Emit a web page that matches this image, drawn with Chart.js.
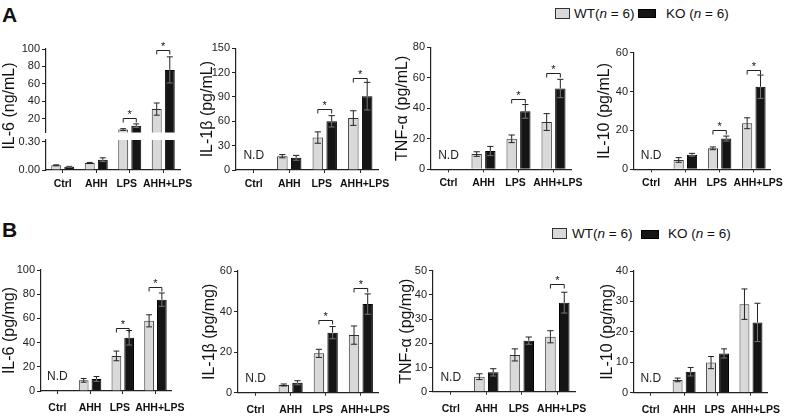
<!DOCTYPE html>
<html>
<head>
<meta charset="utf-8">
<script src="https://cdn.jsdelivr.net/npm/chart.js@4.4.0/dist/chart.umd.min.js"></script>
<style>
  body { margin: 0; background: #fff; width: 790px; height: 416px; position: relative; overflow: hidden;
         font-family: "Liberation Sans", Arial, sans-serif; color: #111; }
  canvas { position: absolute; }
  .tag { position: absolute; font-weight: bold; font-size: 21px; line-height: 24px; }
  .box { position: absolute; box-sizing: border-box; }
  .wt { background: #d9d9d9; border: 1px solid #333; }
  .ko { background: #151515; border: 1px solid #000; }
  .key { position: absolute; font-size: 13.5px; line-height: 16px; white-space: nowrap; }
</style>
</head>
<body>
<div class="tag" style="left:2px;top:3px">A</div>
<div class="tag" style="left:2px;top:218px">B</div>

<div class="box wt" style="left:555px;top:8px;width:15px;height:11px"></div>
<div class="key" style="left:574px;top:6px">WT(<i>n</i> = 6)</div>
<div class="box ko" style="left:638px;top:9px;width:18px;height:9px"></div>
<div class="key" style="left:666px;top:6px">KO (<i>n</i> = 6)</div>

<div class="box wt" style="left:552px;top:228px;width:15px;height:11px"></div>
<div class="key" style="left:572px;top:226px">WT(<i>n</i> = 6)</div>
<div class="box ko" style="left:641px;top:230px;width:18px;height:9px"></div>
<div class="key" style="left:668px;top:226px">KO (<i>n</i> = 6)</div>

<script>
const categories = ['Ctrl', 'AHH', 'LPS', 'AHH+LPS'];

// A - serum
const il6SerumWT = [0.05, 0.075, 7.5, 31];
const il6SerumWTErr = [0.005, 0.006, 1, 7];
const il6SerumKO = [0.035, 0.11, 12, 76];
const il6SerumKOErr = [0.004, 0.02, 2, 15];
const il6SerumSig = [null, null, 20.5, 99];
const il6SerumTicksHigh = [20, 40, 60, 80, 100];
const il6SerumTicksLow = [0, 0.15, 0.30];

const il1bSerumWT = [null, 17, 40, 64];
const il1bSerumWTErr = [null, 2, 7, 9];
const il1bSerumKO = [null, 15, 60, 91];
const il1bSerumKOErr = [null, 3, 7, 17];
const il1bSerumSig = [null, null, 75, 113];
const il1bSerumTicks = [0, 30, 60, 90, 120, 150];

const tnfSerumWT = [null, 10, 20, 31];
const tnfSerumWTErr = [null, 1.5, 2.5, 5.5];
const tnfSerumKO = [null, 12, 38, 53];
const tnfSerumKOErr = [null, 3, 4.5, 6];
const tnfSerumSig = [null, null, 46, 63];
const tnfSerumTicks = [0, 20, 40, 60, 80];

const il10SerumWT = [null, 4.8, 10.8, 23.7];
const il10SerumWTErr = [null, 1.2, 0.7, 2.8];
const il10SerumKO = [null, 7.5, 15.8, 42.5];
const il10SerumKOErr = [null, 0.7, 1.3, 6];
const il10SerumSig = [null, null, 20, 51];
const il10SerumTicks = [0, 20, 40, 60];

// B - tissue
const il6TissueWT = [null, 8.8, 29, 58];
const il6TissueWTErr = [null, 1.5, 4, 5];
const il6TissueKO = [null, 10, 44, 75.5];
const il6TissueKOErr = [null, 2, 6, 5.5];
const il6TissueSig = [null, null, 52, 86];
const il6TissueTicks = [0, 20, 40, 60, 80, 100];

const il1bTissueWT = [null, 3.8, 19.4, 28.4];
const il1bTissueWTErr = [null, 0.5, 2, 4.5];
const il1bTissueKO = [null, 4.9, 29.6, 43.7];
const il1bTissueKOErr = [null, 1, 3, 5];
const il1bTissueSig = [null, null, 36, 51.5];
const il1bTissueTicks = [0, 20, 40, 60];

const tnfTissueWT = [null, 6.2, 15.2, 22.7];
const tnfTissueWTErr = [null, 1.2, 2.5, 2.5];
const tnfTissueKO = [null, 8, 21.1, 36.8];
const tnfTissueKOErr = [null, 1.5, 1.5, 4.3];
const tnfTissueSig = [null, null, null, 44.5];
const tnfTissueTicks = [0, 10, 20, 30, 40, 50];

const il10TissueWT = [null, 4.2, 9.9, 29.1];
const il10TissueWTErr = [null, 0.6, 2, 5];
const il10TissueKO = [null, 6.9, 12.9, 23.1];
const il10TissueKOErr = [null, 1.4, 1.5, 6.3];
const il10TissueTicks = [0, 10, 20, 30, 40];

Chart.defaults.font.family = '"Liberation Sans", Arial, sans-serif';

// the last two labels sit a little apart, as in the figure
function catLabel(v, i) {
  if (i === 2) return categories[i] + '  ';
  if (i === 3) return '   ' + categories[i];
  return categories[i];
}

// error bars, significance brackets, N.D labels
const extras = {
  id: 'extras',
  afterDatasetsDraw(chart, args, opts) {
    const ctx = chart.ctx;
    const area = chart.chartArea;
    const y = chart.scales.y;
    ctx.save();
    ctx.beginPath();
    ctx.rect(area.left, area.top, area.right - area.left, area.bottom - area.top);
    ctx.clip();
    ctx.lineWidth = 1;
    chart.data.datasets.forEach((ds, i) => {
      chart.getDatasetMeta(i).data.forEach((bar, j) => {
        const v = ds.data[j];
        if (v == null) return;
        const e = ds.errors[j];
        const top = y.getPixelForValue(v + e);
        const bot = y.getPixelForValue(v - e);
        const mid = y.getPixelForValue(v);
        const cap = bar.width * 0.3;
        ctx.strokeStyle = '#222';
        ctx.beginPath();
        ctx.moveTo(bar.x, mid); ctx.lineTo(bar.x, top);
        ctx.moveTo(bar.x - cap, top); ctx.lineTo(bar.x + cap, top);
        ctx.stroke();
        ctx.strokeStyle = i === 1 ? '#777' : '#222';
        ctx.beginPath();
        ctx.moveTo(bar.x, mid); ctx.lineTo(bar.x, bot);
        ctx.moveTo(bar.x - cap, bot); ctx.lineTo(bar.x + cap, bot);
        ctx.stroke();
      });
    });
    ctx.restore();

    ctx.save();
    ctx.strokeStyle = '#222';
    ctx.fillStyle = '#111';
    ctx.lineWidth = 1;
    (opts.sig || []).forEach((s, j) => {
      if (s == null) return;
      const x1 = chart.getDatasetMeta(0).data[j].x;
      const x2 = chart.getDatasetMeta(1).data[j].x;
      const py = Math.round(y.getPixelForValue(s)) + 0.5;
      ctx.beginPath();
      ctx.moveTo(x1, py + 4); ctx.lineTo(x1, py); ctx.lineTo(x2, py); ctx.lineTo(x2, py + 4);
      ctx.stroke();
      ctx.font = '11px "Liberation Sans", Arial';
      ctx.textAlign = 'center';
      ctx.textBaseline = 'alphabetic';
      ctx.fillText('*', (x1 + x2) / 2, py - 1);
    });
    if (opts.nd) {
      ctx.font = '12px "Liberation Sans", Arial';
      ctx.fillStyle = '#222';
      ctx.textAlign = 'center';
      ctx.textBaseline = 'middle';
      ctx.fillText('N.D', chart.scales.x.getPixelForTick(0), area.bottom - 14);
    }
    if (opts.titleAt) {
      ctx.translate(opts.titleAt[0], opts.titleAt[1]);
      ctx.rotate(-Math.PI / 2);
      ctx.font = '16px "Liberation Sans", Arial';
      ctx.fillStyle = '#111';
      ctx.textAlign = 'center';
      ctx.textBaseline = 'middle';
      ctx.fillText(opts.titleText, 0, 0);
    }
    ctx.restore();
  }
};

function makePanel(p) {
  const [l, t, w, h] = p.box;
  const [x0, x1, y0, y1] = p.area;
  const showX = p.showX !== false;
  const c = document.createElement('canvas');
  c.width = w; c.height = h;
  c.style.left = l + 'px'; c.style.top = t + 'px';
  document.body.appendChild(c);
  return new Chart(c, {
    type: 'bar',
    data: {
      labels: categories,
      datasets: [
        { label: 'WT', data: p.wt, errors: p.wtErr, backgroundColor: '#d9d9d9', borderColor: '#333', borderWidth: 1, clip: 0 },
        { label: 'KO', data: p.ko, errors: p.koErr, backgroundColor: '#151515', borderColor: '#000', borderWidth: 1, clip: 0 }
      ]
    },
    options: {
      responsive: false,
      animation: false,
      devicePixelRatio: 1,
      layout: { padding: { left: 0, top: y0 - t, right: l + w - x1, bottom: showX ? 0 : t + h - y1 } },
      datasets: { bar: { categoryPercentage: 0.78, barPercentage: 0.76 } },
      plugins: {
        legend: { display: false },
        tooltip: { enabled: false },
        extras: { sig: p.sig, nd: p.nd, titleAt: p.titleAt, titleText: p.titleText }
      },
      scales: {
        x: {
          display: showX,
          offset: true,
          grid: { offset: false, drawOnChartArea: false, tickLength: 3, color: '#222' },
          border: { color: '#222', width: 1.2 },
          ticks: { font: { weight: 'bold', size: 10.5 }, color: '#111', maxRotation: 0, autoSkip: false,
                   padding: p.xPad, callback: catLabel },
          afterFit: s => { s.height = showX ? t + h - y1 : 0; }
        },
        y: {
          min: p.min,
          max: p.max,
          afterBuildTicks: s => { s.ticks = p.ticks.map(v => ({ value: v })); },
          ticks: { font: { size: 11 }, color: '#222', padding: 2, callback: p.fmt || (v => v) },
          grid: { drawOnChartArea: false, tickLength: 4, color: '#222' },
          border: { color: '#222', width: 1.2 },
          title: { display: !!p.title, text: p.title, font: { size: 16 }, color: '#111', padding: 0 },
          afterFit: s => { s.width = x0 - l; }
        }
      }
    },
    plugins: [extras]
  });
}

// A: IL-6 with broken axis (upper and lower part)
makePanel({ box: [0, 40, 200, 165], area: [46, 180, 49, 132.6], showX: false,
  wt: il6SerumWT, wtErr: il6SerumWTErr, ko: il6SerumKO, koErr: il6SerumKOErr,
  min: 4, max: 100, ticks: il6SerumTicksHigh, sig: il6SerumSig,
  titleAt: [10, 66], titleText: 'IL-6 (ng/mL)' });
makePanel({ box: [0, 130, 200, 70], area: [46, 180, 140, 170], xPad: 5,
  wt: il6SerumWT, wtErr: il6SerumWTErr, ko: il6SerumKO, koErr: il6SerumKOErr,
  min: 0, max: 0.32, ticks: il6SerumTicksLow, fmt: v => v.toFixed(2) });

makePanel({ box: [198, 30, 200, 170], area: [236, 378, 48.3, 170], xPad: 5,
  wt: il1bSerumWT, wtErr: il1bSerumWTErr, ko: il1bSerumKO, koErr: il1bSerumKOErr,
  min: 0, max: 150, ticks: il1bSerumTicks, sig: il1bSerumSig, nd: true, title: 'IL-1β (pg/mL)' });
makePanel({ box: [393, 30, 200, 170], area: [431, 571, 47.3, 169.3], xPad: 5,
  wt: tnfSerumWT, wtErr: tnfSerumWTErr, ko: tnfSerumKO, koErr: tnfSerumKOErr,
  min: 0, max: 80, ticks: tnfSerumTicks, sig: tnfSerumSig, nd: true, title: 'TNF-α (pg/mL)' });
makePanel({ box: [595, 30, 195, 170], area: [634, 773, 52.7, 169.3], xPad: 5,
  wt: il10SerumWT, wtErr: il10SerumWTErr, ko: il10SerumKO, koErr: il10SerumKOErr,
  min: 0, max: 60, ticks: il10SerumTicks, sig: il10SerumSig, nd: true, title: 'IL-10 (pg/mL)' });

makePanel({ box: [0, 250, 195, 166], area: [41, 175, 270, 391], xPad: 8,
  wt: il6TissueWT, wtErr: il6TissueWTErr, ko: il6TissueKO, koErr: il6TissueKOErr,
  min: 0, max: 100, ticks: il6TissueTicks, sig: il6TissueSig, nd: true, title: 'IL-6 (pg/mg)' });
makePanel({ box: [200, 250, 200, 166], area: [238, 383, 271, 392.7], xPad: 8,
  wt: il1bTissueWT, wtErr: il1bTissueWTErr, ko: il1bTissueKO, koErr: il1bTissueKOErr,
  min: 0, max: 60, ticks: il1bTissueTicks, sig: il1bTissueSig, nd: true, title: 'IL-1β (pg/mg)' });
makePanel({ box: [397, 250, 200, 166], area: [433, 576, 270.7, 391.7], xPad: 8,
  wt: tnfTissueWT, wtErr: tnfTissueWTErr, ko: tnfTissueKO, koErr: tnfTissueKOErr,
  min: 0, max: 50, ticks: tnfTissueTicks, sig: tnfTissueSig, nd: true, title: 'TNF-α (pg/mg)' });
makePanel({ box: [598, 250, 192, 166], area: [634, 774, 271, 392.7], xPad: 8,
  wt: il10TissueWT, wtErr: il10TissueWTErr, ko: il10TissueKO, koErr: il10TissueKOErr,
  min: 0, max: 40, ticks: il10TissueTicks, nd: true, title: 'IL-10 (pg/mg)' });
</script>
</body>
</html>
